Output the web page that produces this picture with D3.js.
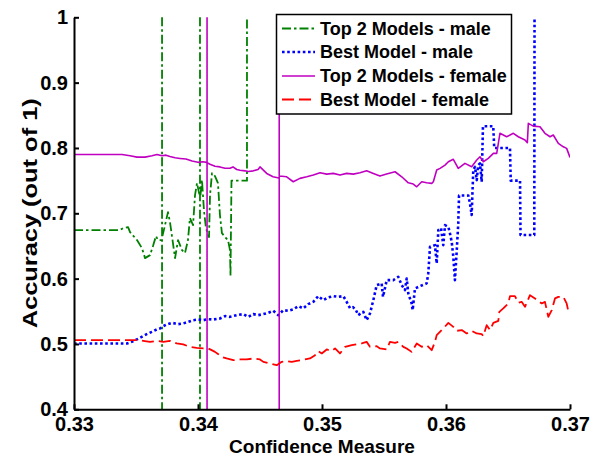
<!DOCTYPE html>
<html>
<head>
<meta charset="utf-8">
<script src="https://cdn.jsdelivr.net/npm/d3@7"></script>
<style>
  html, body { margin: 0; padding: 0; background: #fff; }
  svg { display: block; }
  text { font-family: "Liberation Sans", Arial, Helvetica, sans-serif; font-weight: bold; fill: #000; }
</style>
</head>
<body>
<svg id="chart" width="604" height="457"></svg>
<script>
// Accuracy vs. confidence threshold, [confidence, accuracy] pairs per curve.
// A null splits a curve; the [x,1],[x,0] pairs are the full-height jumps
// where only a handful of samples remain.
const top2Male = [
  [0.3300,0.6743],[0.33371,0.6743],[0.33395,0.6773],[0.33436,0.6789],[0.33452,0.6712],[0.33508,0.6590],
  [0.33548,0.6467],[0.33573,0.6314],[0.33613,0.6360],[0.33637,0.6498],[0.33661,0.6651],[0.33677,0.6590],
  [0.33706,0.6590], null, [0.33710,1.0],[0.33710,0.0], null, [0.33713,0.6651],[0.33734,0.6819],[0.33758,0.7018],
  [0.33774,0.6865],[0.33798,0.6544],[0.33815,0.6314],[0.33839,0.6590],[0.33871,0.6437],[0.33895,0.6391],
  [0.33919,0.6590],[0.33935,0.6927],[0.33960,0.6819],[0.33976,0.7279],[0.33992,0.7463],[0.34012,0.7279],
  null, [0.34016,1.0],[0.34016,0.0], null, [0.34020,0.7279],[0.34032,0.7508],[0.34048,0.7049],[0.34064,0.6773],
  [0.34089,0.6636],[0.34097,0.7279],[0.34113,0.7616],[0.34137,0.7570],[0.34161,0.7463],[0.34177,0.6973],
  [0.34193,0.6697],[0.34218,0.6636],[0.34242,0.6590],[0.34258,0.6437],[0.34262,0.6038],[0.34270,0.75],
  [0.34379,0.75],[0.34395,0.75],[0.34395,1.0]
];

const bestMale = [
  [0.3300,0.5008],[0.33427,0.5008],[0.33465,0.5032],[0.33506,0.5069],[0.33546,0.5109],[0.33586,0.5150],
  [0.33627,0.5185],[0.33667,0.5222],[0.33693,0.5237],[0.33720,0.5273],[0.33748,0.5299],[0.33788,0.5323],
  [0.33815,0.5314],[0.33841,0.5303],[0.33881,0.5314],[0.33922,0.5338],[0.33962,0.5364],[0.34002,0.5375],
  [0.34043,0.5364],[0.34083,0.5380],[0.34123,0.5375],[0.34177,0.5390],[0.34218,0.5426],[0.34258,0.5415],
  [0.34312,0.5441],[0.34365,0.5457],[0.34406,0.5415],[0.34446,0.5457],[0.34486,0.5441],[0.34527,0.5457],
  [0.34567,0.5476],[0.34607,0.5507],[0.34648,0.5441],[0.34688,0.5518],[0.34728,0.5507],[0.34768,0.5529],
  [0.34809,0.5579],[0.34849,0.5544],[0.34889,0.5610],[0.34930,0.5645],[0.34970,0.5732],[0.35010,0.5671],
  [0.35051,0.5712],[0.35091,0.5732],[0.35131,0.5721],[0.35172,0.5732],[0.35199,0.5645],[0.35226,0.5548],
  [0.35250,0.5564],[0.35274,0.5518],[0.35292,0.5441],[0.35333,0.5492],[0.35360,0.5364],[0.35387,0.5467],
  [0.35414,0.5671],[0.35441,0.5901],[0.35481,0.5927],[0.35492,0.5721],[0.35522,0.5977],[0.35575,0.5977],
  [0.35615,0.6028],[0.35643,0.5901],[0.35669,0.5824],[0.35683,0.6003],[0.35696,0.5773],[0.35723,0.5620],
  [0.35731,0.5518],[0.35750,0.5850],[0.35790,0.5885],[0.35844,0.5927],[0.35857,0.6080],[0.35871,0.6487],
  [0.35911,0.6513],[0.35925,0.6233],[0.35938,0.6743],[0.35960,0.6773],[0.35978,0.6513],[0.35992,0.6819],
  [0.36019,0.6793],[0.36032,0.6692],[0.36046,0.6564],[0.36059,0.6334],[0.36072,0.5977],[0.36086,0.6411],
  [0.36099,0.6845],[0.36105,0.7273],[0.36180,0.7273],[0.36193,0.7156],[0.36207,0.6973],[0.36220,0.7662],
  [0.36234,0.7712],[0.36248,0.7508],[0.36260,0.7738],[0.36274,0.7764],[0.36288,0.7482],[0.36298,0.8333],
  [0.36381,0.8333],[0.36389,0.8],[0.36516,0.8],[0.36522,0.75],[0.36597,0.75],[0.36601,0.6667],
  [0.36712,0.6667],[0.36714,1.0]
];

const top2Female = [
  [0.3300,0.790],[0.33387,0.790],[0.33452,0.788],[0.33508,0.786],[0.33573,0.786],[0.33629,0.788],
  [0.33669,0.790],[0.33710,0.788],[0.33742,0.789],[0.33774,0.787],[0.33815,0.785],[0.33855,0.784],
  [0.33903,0.783],[0.33952,0.780],[0.34000,0.778],[0.34040,0.779],[0.34069,0.778], null, [0.34073,1.0],
  [0.34073,0.0], null, [0.34077,0.777],[0.34097,0.775],[0.34137,0.772],[0.34177,0.771],[0.34218,0.769],
  [0.34258,0.769],[0.34282,0.771],[0.34312,0.767],[0.34339,0.766],[0.34379,0.765],[0.34406,0.764],
  [0.34446,0.765],[0.34484,0.767],[0.34500,0.771],[0.34554,0.761],[0.34605,0.756],[0.34651,0.754],
  null, [0.34655,1.0],[0.34655,0.0], null, [0.34659,0.757],[0.34715,0.7559],[0.34768,0.7483],[0.34822,0.7535],
  [0.34877,0.7559],[0.34930,0.7585],[0.34984,0.7620],[0.35038,0.7600],[0.35091,0.7611],[0.35145,0.7585],
  [0.35199,0.7611],[0.35252,0.7600],[0.35306,0.7620],[0.35360,0.7651],[0.35414,0.7611],[0.35467,0.7570],
  [0.35521,0.7600],[0.35589,0.7636],[0.35643,0.7559],[0.35696,0.7467],[0.35736,0.7447],[0.35764,0.7406],
  [0.35804,0.7483],[0.35844,0.7467],[0.35885,0.7458],[0.35898,0.7483],[0.35925,0.7662],[0.35952,0.7688],
  [0.35992,0.7738],[0.36019,0.7789],[0.36059,0.7826],[0.36099,0.7688],[0.36153,0.7764],[0.36207,0.7712],
  [0.36248,0.7815],[0.36274,0.7865],[0.36301,0.7789],[0.36341,0.7841],[0.36382,0.7917],[0.36409,0.7917],
  [0.36435,0.8224],[0.36489,0.8172],[0.36543,0.8224],[0.36583,0.8172],[0.36637,0.8121],[0.36656,0.8080],
  [0.36664,0.8377],[0.36704,0.8335],[0.36758,0.8325],[0.36798,0.8224],[0.36839,0.8172],[0.36865,0.8198],
  [0.36906,0.8070],[0.36946,0.8018],[0.36973,0.7994],[0.37000,0.7856]
];

const bestFemale = [
  [0.3300,0.5058],[0.33425,0.5058],[0.33506,0.5058],[0.33559,0.5048],[0.33613,0.5032],[0.33667,0.5048],
  [0.33720,0.5032],[0.33774,0.5048],[0.33828,0.5008],[0.33881,0.4993],[0.33935,0.4956],[0.33989,0.4940],
  [0.34043,0.4931],[0.34083,0.4931],[0.34110,0.4905],[0.34137,0.4879],[0.34164,0.4844],[0.34191,0.4803],
  [0.34231,0.4778],[0.34285,0.4752],[0.34339,0.4763],[0.34393,0.4763],[0.34446,0.4778],[0.34500,0.4763],
  [0.34527,0.4726],[0.34581,0.4701],[0.34635,0.4675],[0.34675,0.4726],[0.34715,0.4737],[0.34756,0.4726],
  [0.34796,0.4741],[0.34836,0.4752],[0.34863,0.4763],[0.34903,0.4778],[0.34944,0.4829],[0.34970,0.4890],
  [0.34998,0.4855],[0.35038,0.4916],[0.35078,0.4894],[0.35105,0.4931],[0.35145,0.4855],[0.35186,0.4956],
  [0.35240,0.4982],[0.35280,0.4997],[0.35320,0.5008],[0.35360,0.5032],[0.35387,0.4956],[0.35441,0.4967],
  [0.35467,0.4931],[0.35521,0.4916],[0.35548,0.5032],[0.35589,0.5017],[0.35615,0.5032],[0.35656,0.4956],
  [0.35683,0.4931],[0.35723,0.4879],[0.35764,0.5008],[0.35804,0.4956],[0.35844,0.4982],[0.35885,0.4905],
  [0.35911,0.5032],[0.35925,0.5135],[0.35978,0.5237],[0.36019,0.5323],[0.36059,0.5262],[0.36086,0.5201],
  [0.36127,0.5212],[0.36167,0.5161],[0.36207,0.5201],[0.36248,0.5161],[0.36288,0.5150],[0.36301,0.5120],
  [0.36328,0.5288],[0.36355,0.5212],[0.36382,0.5323],[0.36422,0.5354],[0.36430,0.5492],[0.36462,0.5544],
  [0.36502,0.5620],[0.36516,0.5732],[0.36556,0.5732],[0.36583,0.5630],[0.36610,0.5645],[0.36637,0.5568],
  [0.36677,0.5747],[0.36718,0.5697],[0.36772,0.5620],[0.36798,0.5645],[0.36825,0.5415],[0.36853,0.5518],
  [0.36879,0.5697],[0.36906,0.5721],[0.36946,0.5721],[0.36973,0.5620],[0.36986,0.5507],[0.37000,0.5507]
];

const seriesNames = ["Top 2 Models - male", "Best Model - male", "Top 2 Models - female", "Best Model - female"];
const xTicks = [0.33, 0.34, 0.35, 0.36, 0.37];
const xTickLabels = ["0.33", "0.34", "0.35", "0.36", "0.37"];
const yTicks = [0.4, 0.5, 0.6, 0.7, 0.8, 0.9, 1.0];
const yTickLabels = ["0.4", "0.5", "0.6", "0.7", "0.8", "0.9", "1"];

// Line styles, in legend order
const styles = [
  { data: top2Male,   color: "#008000", width: 1.8, dash: "9,3,2.5,3" },
  { data: bestMale,   color: "#0000ff", width: 2.6, dash: "2.6,2.6" },
  { data: top2Female, color: "#c000c0", width: 1.6, dash: null },
  { data: bestFemale, color: "#ff0000", width: 1.8, dash: "12,5" }
];

const svg = d3.select("#chart");
const plot = { left: 74, right: 570, top: 17.3, bottom: 409.3 };

const x = d3.scaleLinear().domain([0.33, 0.37]).range([plot.left, plot.right]);
const y = d3.scaleLinear().domain([0.4, 1.0]).range([plot.bottom, plot.top]);

svg.append("defs").append("clipPath").attr("id", "plotClip")
  .append("rect")
  .attr("x", plot.left).attr("y", plot.top - 1)
  .attr("width", plot.right - plot.left).attr("height", plot.bottom - plot.top + 1);

// Curves
const line = d3.line()
  .defined(d => d !== null)
  .x(d => x(d[0]))
  .y(d => y(d[1]));
const curves = svg.append("g").attr("clip-path", "url(#plotClip)");
styles.forEach(s => {
  curves.append("path")
    .datum(s.data)
    .attr("d", line)
    .attr("fill", "none")
    .attr("stroke", s.color)
    .attr("stroke-width", s.width)
    .attr("stroke-dasharray", s.dash)
    .attr("stroke-linejoin", "round");
});

// Axes (left and bottom, ticks pointing inward)
const xAxis = d3.axisBottom(x)
  .tickValues(xTicks)
  .tickFormat((d, i) => xTickLabels[i])
  .tickSizeInner(-5).tickSizeOuter(0);
const yAxis = d3.axisLeft(y)
  .tickValues(yTicks)
  .tickFormat((d, i) => yTickLabels[i])
  .tickSizeInner(-5).tickSizeOuter(0);

const gx = svg.append("g").attr("transform", `translate(0,${plot.bottom})`).call(xAxis);
const gy = svg.append("g").attr("transform", `translate(${plot.left},0)`).call(yAxis);

[gx, gy].forEach(g => {
  g.select(".domain").attr("stroke", "#000").attr("stroke-width", 2);
  g.selectAll(".tick line").attr("stroke", "#000").attr("stroke-width", 2);
  g.selectAll(".tick text")
    .attr("font-family", "Liberation Sans, Arial, sans-serif")
    .attr("font-weight", "bold")
    .attr("font-size", 20)
    .attr("fill", "#000");
});
gx.selectAll(".tick text").attr("y", 8).attr("dy", "0.71em");
gy.selectAll(".tick text").attr("x", -6).attr("dy", "0.32em");

// Axis titles
svg.append("text")
  .attr("x", (plot.left + plot.right) / 2)
  .attr("y", 453)
  .attr("text-anchor", "middle")
  .attr("font-size", 19)
  .text("Confidence Measure");

svg.append("text")
  .attr("transform", `translate(37,${(plot.top + plot.bottom) / 2}) rotate(-90) scale(1.27,1)`)
  .attr("text-anchor", "middle")
  .attr("font-size", 20)
  .text("Accuracy (out of 1)");

// Legend
const legend = svg.append("g");
legend.append("rect")
  .attr("x", 276.5).attr("y", 14.5)
  .attr("width", 235).attr("height", 99.5)
  .attr("fill", "#fff").attr("stroke", "#000").attr("stroke-width", 1.5);

const rowY = [28.5, 52, 76, 99.5];
styles.forEach((s, i) => {
  legend.append("line")
    .attr("x1", 282).attr("x2", 315)
    .attr("y1", rowY[i]).attr("y2", rowY[i])
    .attr("stroke", s.color)
    .attr("stroke-width", s.width)
    .attr("stroke-dasharray", s.dash);
  legend.append("text")
    .attr("x", 320).attr("y", rowY[i])
    .attr("dy", "0.36em")
    .attr("font-size", 18)
    .text(seriesNames[i]);
});
</script>
</body>
</html>
